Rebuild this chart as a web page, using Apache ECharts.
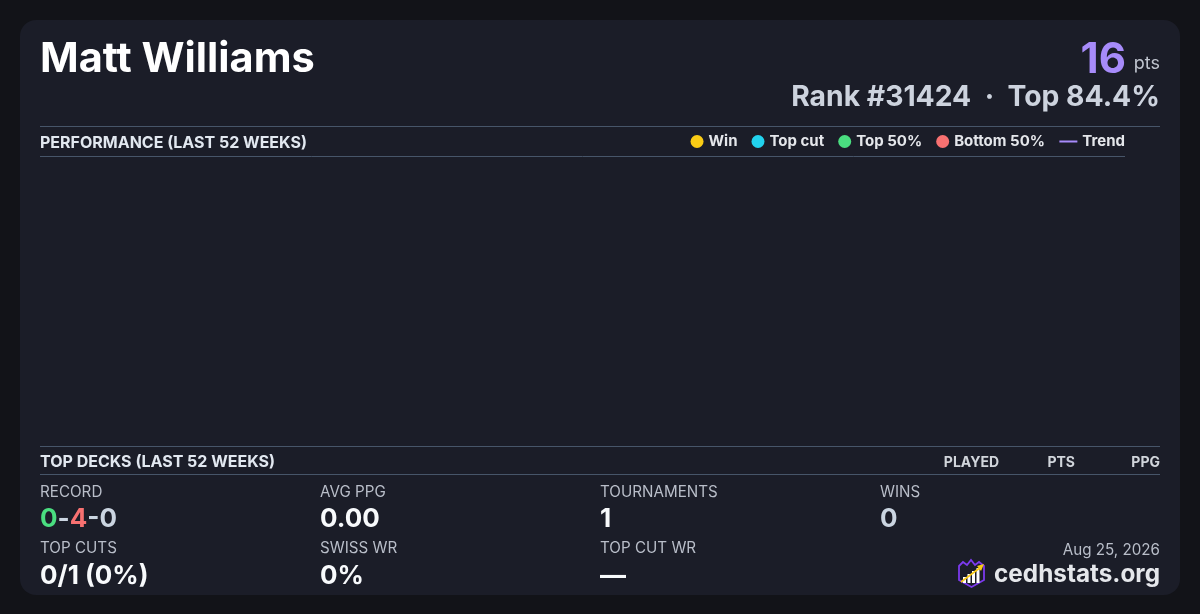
<!DOCTYPE html>
<html>
<head>
<meta charset="utf-8">
<script src="https://cdn.jsdelivr.net/npm/echarts@6/dist/echarts.min.js"></script>
<style>
html,body{margin:0;padding:0;background:#121318;}
#chart{width:1200px;height:614px;}
</style>
</head>
<body>
<div id="chart"></div>
<script>
// ---- data ----
const playerName = 'Matt Williams';
const points = '16';
const rankText = 'Rank #31424  ·  Top 84.4%';
const weeks = [];            // no results in the last 52 weeks
const winData = [];
const topCutData = [];
const top50Data = [];
const bottom50Data = [];
const trendData = [];
const seriesNames = ['Win', 'Top cut', 'Top 50%', 'Bottom 50%', 'Trend'];
const seriesColors = ['#facc15', '#22d3ee', '#4ade80', '#f87171', '#a78bfa'];
const deckColumns = ['PLAYED', 'PTS', 'PPG'];
const statLabelsRow1 = ['RECORD', 'AVG PPG', 'TOURNAMENTS', 'WINS'];
const statValuesRow1 = ['0-4-0', '0.00', '1', '0'];
const statLabelsRow2 = ['TOP CUTS', 'SWISS WR', 'TOP CUT WR'];
const statValuesRow2 = ['0/1 (0%)', '0%', '—'];
const record = { wins: '0', losses: '4', draws: '0' };
const dateText = 'Aug 25, 2026';
const siteText = 'cedhstats.org';

const FONT = 'Inter, "Noto Sans", sans-serif';
const chart = echarts.init(document.getElementById('chart'));

const colX = [40, 320, 600, 880];
const graphics = [];

// card background
graphics.push({ type: 'rect', shape: { x: 20, y: 20, width: 1160, height: 575, r: 16 }, style: { fill: '#1b1d28' }, z: -10 });

// header
graphics.push({ type: 'text', x: 40, y: 60, style: { text: playerName, font: 'bold 41.5px ' + FONT, fill: '#ffffff', textVerticalAlign: 'middle' } });
graphics.push({ type: 'text', x: 1126, y: 60, style: { text: points, font: 'bold 42px ' + FONT, fill: '#a78bfa', textAlign: 'right', textVerticalAlign: 'middle' } });
graphics.push({ type: 'text', x: 1160, y: 64, style: { text: 'pts', font: '18px ' + FONT, fill: '#c0c5cf', textAlign: 'right', textVerticalAlign: 'middle' } });
graphics.push({ type: 'text', x: 1160, y: 97.5, style: { text: rankText, font: 'bold 28.3px ' + FONT, fill: '#cdd3de', textAlign: 'right', textVerticalAlign: 'middle' } });

// section lines
const lineStyle = { stroke: '#475569', lineWidth: 1 };
graphics.push({ type: 'line', shape: { x1: 40, y1: 126.5, x2: 1160, y2: 126.5 }, style: lineStyle });
graphics.push({ type: 'line', shape: { x1: 40, y1: 156.5, x2: 1125, y2: 156.5 }, style: lineStyle });
graphics.push({ type: 'line', shape: { x1: 40, y1: 446.5, x2: 1160, y2: 446.5 }, style: lineStyle });
graphics.push({ type: 'line', shape: { x1: 40, y1: 474.5, x2: 1160, y2: 474.5 }, style: lineStyle });

graphics.push({ type: 'text', x: 40, y: 143, style: { text: 'PERFORMANCE (LAST 52 WEEKS)', font: 'bold 16px ' + FONT, fill: '#e2e8f0', textVerticalAlign: 'middle' } });
graphics.push({ type: 'text', x: 40, y: 462.5, style: { text: 'TOP DECKS (LAST 52 WEEKS)', font: 'bold 16px ' + FONT, fill: '#e2e8f0', textVerticalAlign: 'middle' } });

const colRight = [999, 1075, 1160];
deckColumns.forEach((c, i) => {
  graphics.push({ type: 'text', x: colRight[i], y: 462.5, style: { text: c, font: 'bold 14px ' + FONT, fill: '#d1d5db', textAlign: 'right', textVerticalAlign: 'middle' } });
});

// stats
const labelStyle = (t, x, y) => ({ type: 'text', x, y, style: { text: t, font: '15.2px ' + FONT, fill: '#b9bec9', textVerticalAlign: 'middle' } });
const valueStyle = (t, x, y, fill) => ({ type: 'text', x, y, style: { text: t, font: 'bold 26px ' + FONT, fill: fill || '#f8fafc', textVerticalAlign: 'middle' } });

statLabelsRow1.forEach((l, i) => graphics.push(labelStyle(l, colX[i], 492.5)));
statLabelsRow2.forEach((l, i) => graphics.push(labelStyle(l, colX[i], 548.5)));

// record with coloured parts
graphics.push({ type: 'text', x: 40, y: 519.5, style: {
  text: '{g|' + record.wins + '}{d|-}{r|' + record.losses + '}{d|-' + record.draws + '}',
  font: 'bold 26px ' + FONT, textVerticalAlign: 'middle',
  rich: {
    g: { fill: '#4ade80', font: 'bold 26px ' + FONT },
    r: { fill: '#f87171', font: 'bold 26px ' + FONT },
    d: { fill: '#cbd5e1', font: 'bold 26px ' + FONT }
  }
} });
graphics.push(valueStyle(statValuesRow1[1], colX[1], 519.5));
graphics.push(valueStyle(statValuesRow1[2], colX[2], 519.5));
graphics.push(valueStyle(statValuesRow1[3], colX[3], 519.5, '#cbd5e1'));
statValuesRow2.forEach((v, i) => graphics.push(valueStyle(v, colX[i], 576)));

// footer
graphics.push({ type: 'text', x: 1160, y: 550.5, style: { text: dateText, font: '15.2px ' + FONT, fill: '#b9bec9', textAlign: 'right', textVerticalAlign: 'middle' } });
graphics.push({ type: 'text', x: 1160, y: 575, style: { text: siteText, font: 'bold 24.3px ' + FONT, fill: '#e5e7eb', textAlign: 'right', textVerticalAlign: 'middle' } });

// logo
graphics.push({ type: 'group', x: 957, y: 558, children: [
  { type: 'polygon', shape: { points: [[2,8],[6,4],[10,7],[14,2],[18,7],[22,4],[27,8],[27,22],[14.5,29],[2,22]] }, style: { fill: '#1b1d28', stroke: '#7c3aed', lineWidth: 1.8 } },
  { type: 'rect', shape: { x: 6, y: 19, width: 3, height: 6 }, style: { fill: '#ffffff' } },
  { type: 'rect', shape: { x: 10.5, y: 16, width: 3, height: 9 }, style: { fill: '#ffffff' } },
  { type: 'rect', shape: { x: 15, y: 13, width: 3, height: 12 }, style: { fill: '#ffffff' } },
  { type: 'rect', shape: { x: 19.5, y: 10, width: 3, height: 15 }, style: { fill: '#ffffff' } },
  { type: 'line', shape: { x1: 4, y1: 24, x2: 24, y2: 9 }, style: { stroke: '#facc15', lineWidth: 1.6 } },
  { type: 'polygon', shape: { points: [[27,6],[20,8],[24,13]] }, style: { fill: '#facc15' } }
] });

const legendText = { color: '#e5e7eb', fontWeight: 'bold', fontSize: 15, fontFamily: FONT };

chart.setOption({
  backgroundColor: '#121318',
  animation: false,
  textStyle: { fontFamily: FONT },
  grid: { left: 40, right: 75, top: 157, bottom: 168 },
  legend: [
    { data: seriesNames.slice(0, 4), icon: 'circle', itemWidth: 13, itemHeight: 13, itemGap: 14,
      right: 155, top: 134, padding: 0, textStyle: legendText },
    { data: [{ name: seriesNames[4], icon: 'rect' }], itemWidth: 18, itemHeight: 2, right: 75, top: 134, padding: 0,
      textStyle: legendText }
  ],
  xAxis: { type: 'category', data: weeks, show: false },
  yAxis: { type: 'value', show: false, splitLine: { show: false } },
  series: [
    { name: seriesNames[0], type: 'scatter', data: winData, itemStyle: { color: seriesColors[0], opacity: 1 } },
    { name: seriesNames[1], type: 'scatter', data: topCutData, itemStyle: { color: seriesColors[1], opacity: 1 } },
    { name: seriesNames[2], type: 'scatter', data: top50Data, itemStyle: { color: seriesColors[2], opacity: 1 } },
    { name: seriesNames[3], type: 'scatter', data: bottom50Data, itemStyle: { color: seriesColors[3], opacity: 1 } },
    { name: seriesNames[4], type: 'line', data: trendData, showSymbol: false, lineStyle: { color: seriesColors[4], width: 2 }, itemStyle: { color: seriesColors[4] } }
  ],
  graphic: graphics
});
</script>
</body>
</html>
